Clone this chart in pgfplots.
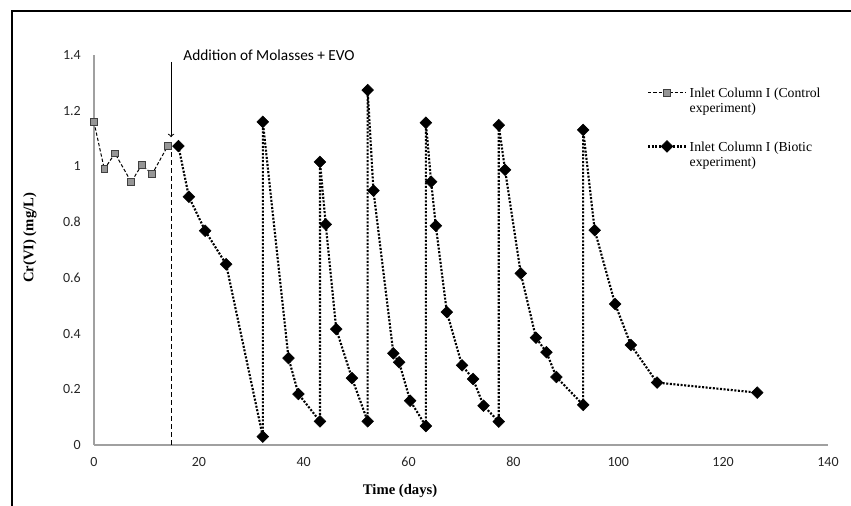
\documentclass[border=0pt]{standalone}
\usepackage{pgfplots}
\pgfplotsset{compat=1.18}
\usepackage{fontspec}
\setmainfont{Carlito}
\newfontfamily\serif{Liberation Serif}
\definecolor{axgray}{RGB}{160,160,160}
\definecolor{sqfill}{RGB}{150,150,150}
\begin{document}
\begin{tikzpicture}
\begin{axis}[
  at={(0,0)}, anchor=south west,
  scale only axis, width=550.5pt, height=292.5pt,
  xmin=0, xmax=140, ymin=0, ymax=1.4,
  xtick={0,20,...,140}, ytick={0,0.2,...,1.4},
  axis lines*=left,
  axis line style={axgray, line width=1pt},
  major tick length=0pt,
  clip=false,
  /pgf/number format/assume math mode=true,
  /pgf/number format/fixed,
  tick label style={font=\fontsize{10.5}{12}\selectfont, text=black!85},
  yticklabel style={inner sep=0pt, anchor=east, xshift=-9.75pt},
  xticklabel style={inner sep=0pt, anchor=north, yshift=-9pt},
  xlabel={Time (days)},
  ylabel={Cr(VI) (mg/L)},
  label style={font=\serif\bfseries\fontsize{11}{13}\selectfont},
  xlabel style={at={(axis description cs:0.417,-0.118)}, anchor=center},
  ylabel style={at={(axis description cs:-0.0872,0.531)}, anchor=center},
  legend style={at={(axis description cs:0.753,0.926)}, anchor=north west,
    draw=none, fill=none, inner sep=0pt, row sep=27pt,
    font=\serif\fontsize{10.3}{11.25}\selectfont,
    cells={anchor=base west}},
  legend image code/.code={\draw[yshift=3.5pt,mark repeat=2,mark phase=2,#1] plot coordinates {(0cm,0cm) (0.5cm,0cm) (1cm,0cm)};},
]
\addplot[black, line width=0.75pt, dash pattern=on 2.5pt off 1.5pt,
  mark=square*, mark size=2.5pt,
  mark options={solid, fill=sqfill, draw=black!75, line width=0.6pt}]
  coordinates {(0,1.159) (1.97,0.99) (4.0,1.047) (7.1,0.944) (9.1,1.005) (11.1,0.973) (14.05,1.073)};
\addlegendentry{\begin{tabular}[t]{@{}l@{}}Inlet Column I (Control\\experiment)\end{tabular}}
\addplot[black, line width=1.6pt, dash pattern=on 1.5pt off 1.2pt,
  mark=square*, mark size=3.1pt,
  mark options={solid, rotate=45, fill=black, draw=black, line width=0.4pt}]
  coordinates {
  (16.1,1.073) (18.1,0.891) (21.2,0.769) (25.2,0.649) (32.2,0.030) (32.2,1.160)
  (37.1,0.312) (39.0,0.183) (43.1,0.085) (43.1,1.016) (44.2,0.792) (46.2,0.416)
  (49.2,0.240) (52.2,0.085) (52.2,1.274) (53.3,0.913) (57.1,0.329) (58.2,0.297)
  (60.3,0.159) (63.3,0.068) (63.3,1.157) (64.3,0.945) (65.2,0.787) (67.3,0.477)
  (70.2,0.286) (72.3,0.237) (74.3,0.141) (77.2,0.084) (77.2,1.148) (78.4,0.988)
  (81.4,0.616) (84.3,0.385) (86.3,0.333) (88.2,0.244) (93.3,0.144) (93.3,1.131)
  (95.5,0.771) (99.4,0.506) (102.4,0.359) (107.4,0.224) (126.5,0.188)};
\addlegendentry{\begin{tabular}[t]{@{}l@{}}Inlet Column I (Biotic\\experiment)\end{tabular}}
\draw[black, line width=0.8pt, dash pattern=on 3.5pt off 2.5pt] (axis cs:14.7,0) -- (axis cs:14.7,1.09);
\draw[black, line width=0.8pt, ->] (axis cs:14.7,1.375) -- (axis cs:14.7,1.105);
\node[anchor=west, inner sep=0pt, font=\fontsize{11.5}{13}\selectfont] at (axis cs:17,1.4) {Addition of Molasses + EVO};
\end{axis}
\pgfresetboundingbox
\path[use as bounding box] (-70.5pt,-45.75pt) rectangle (567.75pt,333.75pt);
\draw[line width=1.7pt] (-61.5pt,-80pt) |- (620pt,325.5pt);
\end{tikzpicture}
\end{document}
